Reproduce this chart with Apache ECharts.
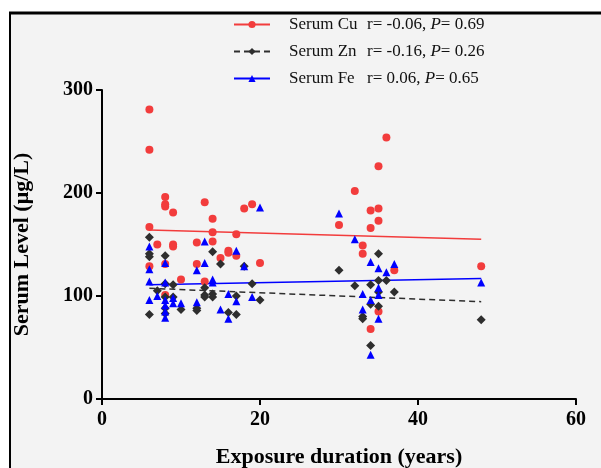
<!DOCTYPE html>
<html>
<head>
<meta charset="utf-8">
<script src="https://cdn.jsdelivr.net/npm/echarts@6/dist/echarts.min.js"></script>
<style>
  html, body { margin: 0; padding: 0; background: #fff; }
  #chart { width: 601px; height: 468px; }
</style>
</head>
<body>
<div id="chart"></div>
<script>
// scatter points: [exposure years, serum level µg/L]
const cuPoints = [
  [6, 281], [6, 242], [6, 167], [6, 129], [7, 150],
  [8, 196], [8, 189], [8, 187], [8, 131], [8, 101],
  [9, 181], [9, 150], [9, 148], [10, 116], [12, 152], [12, 131],
  [13, 191], [13, 114], [14, 175], [14, 162], [14, 153], [15, 137],
  [16, 144], [16, 142], [17, 160], [17, 139], [18, 185], [19, 189], [20, 132],
  [30, 169], [32, 202], [33, 149], [33, 141], [34, 183], [34, 166], [34, 68],
  [35, 226], [35, 185], [35, 173], [35, 85], [36, 254], [37, 125], [48, 129]
]
const znPoints = [
  [6, 157], [6, 141], [6, 138], [6, 82], [7, 105],
  [8, 139], [8, 112], [8, 99], [8, 88], [8, 83],
  [9, 111], [9, 99], [10, 87], [12, 88], [12, 86],
  [13, 108], [13, 101], [13, 99], [14, 143], [14, 102], [14, 99], [15, 131],
  [16, 84], [17, 100], [17, 82], [18, 129], [19, 112], [20, 96],
  [30, 125], [32, 110], [33, 80], [33, 78], [34, 111], [34, 92], [34, 52],
  [35, 141], [35, 115], [35, 104], [35, 90], [36, 115], [37, 104], [48, 77]
]
const fePoints = [
  [6, 148], [6, 126], [6, 114], [6, 96], [7, 100],
  [8, 132], [8, 113], [8, 96], [8, 91], [8, 85], [8, 79],
  [9, 98], [9, 93], [10, 93], [12, 125], [12, 94],
  [13, 153], [13, 132], [14, 116], [14, 113], [15, 87],
  [16, 102], [16, 78], [17, 144], [17, 95], [18, 129], [19, 99], [20, 186],
  [30, 180], [32, 155], [33, 102], [33, 87], [34, 133], [34, 96], [34, 43],
  [35, 127], [35, 108], [35, 101], [35, 78], [36, 123], [37, 131], [48, 113]
]

// regression lines (end points)
const cuFit = [[6, 164], [48, 155]]
const znFit = [[6, 107.5], [48, 94.5]]
const feFit = [[6, 111], [48, 117]]

const seriesNames = ['Serum Cu', 'Serum Zn', 'Serum Fe']
const rValues = ['-0.06', '-0.16', '0.06']
const pValues = ['0.69', '0.26', '0.65']
const xTicks = [0, 20, 40, 60]
const yTicks = [0, 100, 200, 300]

const RED = '#f23c3c'
const DARK = '#2e2e2e'
const BLUE = '#0000ff'
const FONT = 'Liberation Serif'

const chart = echarts.init(document.getElementById('chart'))

chart.setOption({
  animation: false,
  backgroundColor: '#fff',
  graphic: [
    { type: 'rect', shape: { x: 10, y: 13, width: 600, height: 460 }, style: { fill: '#f3f3f3' }, z: -10, silent: true },
    { type: 'line', shape: { x1: 9, y1: 13, x2: 601, y2: 13 }, style: { stroke: '#000', lineWidth: 3 }, silent: true },
    { type: 'line', shape: { x1: 10, y1: 12, x2: 10, y2: 468 }, style: { stroke: '#000', lineWidth: 2 }, silent: true }
  ],
  legend: {
    data: seriesNames,
    orient: 'vertical',
    left: 228,
    top: 11,
    itemWidth: 36,
    itemHeight: 9,
    itemGap: 10,
    selectedMode: false,
    formatter: (name) => {
      const i = seriesNames.indexOf(name)
      return '{n|' + name + '}{r|r= ' + rValues[i] + ', }{p|P}{r|= ' + pValues[i] + '}'
    },
    textStyle: {
      fontFamily: FONT,
      fontSize: 17,
      color: '#111',
      rich: {
        n: { fontFamily: FONT, fontSize: 17, color: '#111', width: 78, padding: [0, 0, 0, 14] },
        r: { fontFamily: FONT, fontSize: 17, color: '#111' },
        p: { fontFamily: FONT, fontSize: 17, color: '#111', fontStyle: 'italic' }
      }
    }
  },
  grid: { left: 102, top: 90, right: 25, bottom: 69, outerBoundsMode: 'none' },
  xAxis: {
    type: 'value',
    min: 0,
    max: 60,
    interval: 20,
    name: 'Exposure duration (years)',
    nameLocation: 'middle',
    nameGap: 47,
    nameTextStyle: { fontFamily: FONT, fontSize: 22, fontWeight: 'bold', color: '#000' },
    axisLine: { lineStyle: { color: '#000', width: 2 } },
    axisTick: { show: true, length: 6, lineStyle: { color: '#000', width: 2 } },
    axisLabel: {
      margin: 11,
      fontFamily: FONT, fontSize: 20, fontWeight: 'bold', color: '#000',
      formatter: (v) => (xTicks.includes(v) ? String(v) : '')
    },
    splitLine: { show: false }
  },
  yAxis: {
    type: 'value',
    min: 0,
    max: 300,
    interval: 100,
    name: 'Serum Level (μg/L)',
    nameLocation: 'middle',
    nameGap: 69,
    nameTextStyle: { fontFamily: FONT, fontSize: 22, fontWeight: 'bold', color: '#000' },
    axisLine: { show: true, lineStyle: { color: '#000', width: 2 } },
    axisTick: { show: true, length: 6, lineStyle: { color: '#000', width: 2 } },
    axisLabel: {
      margin: 9,
      fontFamily: FONT, fontSize: 20, fontWeight: 'bold', color: '#000',
      formatter: (v) => (yTicks.includes(v) ? String(v) : '')
    },
    splitLine: { show: false }
  },
  series: [
    {
      name: 'Serum Cu', type: 'line', data: cuFit, symbol: 'circle', showSymbol: false, silent: true,
      lineStyle: { color: RED, width: 1.5 }, itemStyle: { color: RED }, z: 2
    },
    {
      name: 'Serum Zn', type: 'line', data: znFit, symbol: 'diamond', showSymbol: false, silent: true,
      lineStyle: { color: DARK, width: 1.5, type: [6, 4] }, itemStyle: { color: DARK }, z: 2
    },
    {
      name: 'Serum Fe', type: 'line', data: feFit, symbol: 'triangle', showSymbol: false, silent: true,
      lineStyle: { color: BLUE, width: 1.5 }, itemStyle: { color: BLUE }, z: 2
    },
    { name: 'Cu points', type: 'scatter', data: cuPoints, symbol: 'circle', symbolSize: 8, itemStyle: { color: RED, opacity: 1 }, z: 3 },
    { name: 'Zn points', type: 'scatter', data: znPoints, symbol: 'diamond', symbolSize: 9, itemStyle: { color: DARK, opacity: 1 }, z: 4 },
    { name: 'Fe points', type: 'scatter', data: fePoints, symbol: 'triangle', symbolSize: 8, itemStyle: { color: BLUE, opacity: 1 }, z: 5 }
  ]
})
</script>
</body>
</html>
